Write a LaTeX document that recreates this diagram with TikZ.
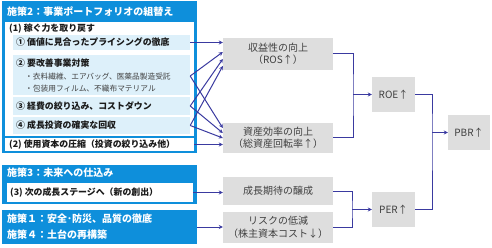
\documentclass[tikz,border=0pt]{standalone}
\usepackage{fontspec}
\setmainfont{Noto Sans CJK JP}
\usetikzlibrary{arrows.meta}
\definecolor{planblue}{HTML}{0E8FDB}
\definecolor{rowblue}{HTML}{DDF0FA}
\definecolor{linkblue}{HTML}{3A3AA0}
\definecolor{boxgray}{HTML}{DEDEDE}
\definecolor{txtgray}{HTML}{404040}
\definecolor{txtdark}{HTML}{1A1A1A}

\begin{document}
\begin{tikzpicture}[x=1pt,y=-1pt,
    bluebox/.style={fill=planblue, inner sep=0pt, minimum width=195pt},
    whitebox/.style={fill=white, inner sep=0pt},
    rowbox/.style={fill=rowblue, inner sep=0pt, minimum width=177pt},
    graybox/.style={fill=boxgray, text=txtgray, align=center, inner sep=0pt,
        font=\fontsize{10}{12.5}\selectfont},
    keybox/.style={graybox, minimum width=43pt, minimum height=35pt},
    title/.style={anchor=west, text=white, inner sep=0pt, font=\bfseries\fontsize{10}{16}\selectfont},
    head/.style={anchor=west, text=txtdark, inner sep=0pt, font=\bfseries\fontsize{8.9}{10}\selectfont},
    bullet/.style={anchor=west, text=txtgray, inner sep=0pt, font=\fontsize{7.7}{9}\selectfont},
    link/.style={draw=linkblue, line width=1pt, -{Stealth[length=4pt,width=4pt]}},
    bracket/.style={draw=linkblue, line width=1pt}]
    \useasboundingbox (0,0) rectangle (492,248);

    % plan 2
    \node[bluebox, minimum height=152pt] (plan2) at (99.5,77) {};
    \node[title] (plan2t) at (7,12) {施策2：事業ポートフォリオの組替え};
    \node[whitebox, minimum width=189pt, minimum height=114pt] (earn) at (99.5,79) {};
    \node[head] (earnt) at (9,29) {(1) 稼ぐ力を取り戻す};
    \node[rowbox, minimum height=15pt] (r1) at (101.5,42.5) {};
    \node[head] (r1t) at (16,42.5) {① 価値に見合ったプライシングの徹底};
    \node[rowbox, minimum height=40pt] (r2) at (101.5,75) {};
    \node[head] (r2t) at (16,63) {② 要改善事業対策};
    \node[bullet] (r2a) at (25,77) {・衣料繊維、エアバッグ、医薬品製造受託};
    \node[bullet] (r2b) at (25,89) {・包装用フィルム、不織布マテリアル};
    \node[rowbox, minimum height=18pt] (r3) at (101.5,106) {};
    \node[head] (r3t) at (16,106) {③ 経費の絞り込み、コストダウン};
    \node[rowbox, minimum height=17pt] (r4) at (101.5,125.5) {};
    \node[head] (r4t) at (16,125.5) {④ 成長投資の確実な回収};
    \node[whitebox, minimum width=189pt, minimum height=13pt] (cap) at (99.5,144.5) {};
    \node[head] (capt) at (9,144.5) {(2) 使用資本の圧縮（投資の絞り込み他）};

    % plan 3
    \node[bluebox, minimum height=39pt] (plan3) at (99.5,184.5) {};
    \node[title] (plan3t) at (7,173) {施策3：未来への仕込み};
    \node[whitebox, minimum width=186pt, minimum height=19pt] (next) at (100,192.5) {};
    \node[head] (nextt) at (10,192.5) {(3) 次の成長ステージへ（新の創出）};

    % plan 1 and 4
    \node[bluebox, minimum height=34pt] (plan14) at (99.5,227) {};
    \node[title, align=left] (plan14t) at (7,227) {施策１：安全･防災、品質の徹底\\施策４：土台の再構築};

    % drivers
    \node[graybox, minimum width=110pt, minimum height=32pt] (ros) at (278,54) {収益性の向上\\（ROS↑）};
    \node[graybox, minimum width=110pt, minimum height=30pt] (eff) at (278,138) {資産効率の向上\\（総資産回転率↑）};
    \node[graybox, minimum width=110pt, minimum height=28pt] (grow) at (278,191) {成長期待の醸成};
    \node[graybox, minimum width=110pt, minimum height=31pt] (risk) at (278,227.5) {リスクの低減\\（株主資本コスト↓）};
    \node[keybox] (roe) at (393.5,94.5) {ROE↑};
    \node[keybox] (per) at (393.5,209.5) {PER↑};
    \node[keybox, minimum width=42pt] (pbr) at (469,132.5) {PBR↑};

    % plans to drivers
    \draw[link] (r1.east) -- (ros.west |- r1.east);
    \draw[link] ([yshift=-1pt]r2.east) -- ([yshift=2pt]ros.west);
    \draw[link] ([yshift=-1pt]r2.east) -- ([yshift=10pt]eff.west);
    \draw[link] (r3.east) -- ([yshift=-5pt]ros.west);
    \draw[link] (r3.east) -- ([yshift=5pt]eff.west);
    \draw[link] (r4.east) -- ([yshift=-12pt]ros.west);
    \draw[link] (r4.east) -- (eff.west);
    \draw[link] (cap.east) -- (eff.west |- cap.east);
    \draw[link] (next.east) -- (grow.west |- next.east);
    \draw[link] (plan14.east) -- (risk.west |- plan14.east);

    % drivers to ratios
    \coordinate (j1) at (353,94.5);
    \coordinate (j2) at (352,209.5);
    \coordinate (j3) at (432,132.5);
    \draw[bracket] (ros.east) -| (j1) |- (eff.east);
    \draw[link] (j1) -- (roe);
    \draw[bracket] (grow.east) -| (j2) |- (risk.east);
    \draw[link] (j2) -- (per);
    \draw[bracket] (roe.east) -| (j3) |- (per.east);
    \draw[link] (j3) -- (pbr);
\end{tikzpicture}
\end{document}
